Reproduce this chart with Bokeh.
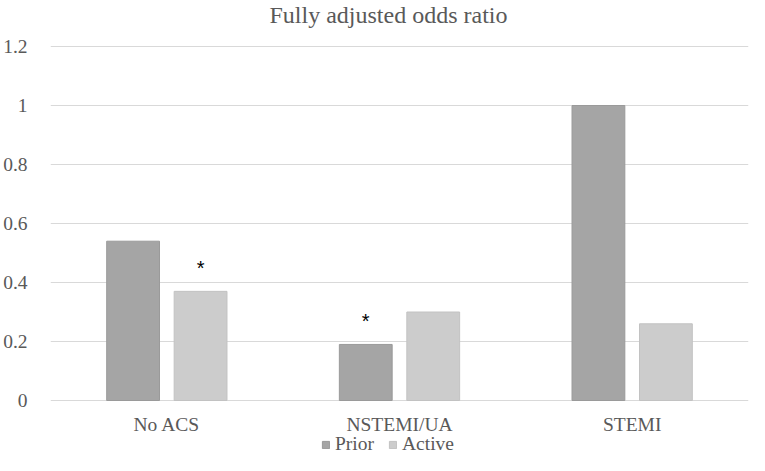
from bokeh.plotting import figure
from bokeh.models import ColumnDataSource, FactorRange, Legend, LegendItem, Range1d
from bokeh.transform import dodge
from bokeh.core.properties import value
from bokeh.embed import file_html
from bokeh.resources import INLINE

title_text = "Fully adjusted odds ratio"
categories = ["No ACS", "NSTEMI/UA", "STEMI"]
series_names = ["Prior", "Active"]
prior = [0.54, 0.19, 1.0]
active = [0.37, 0.30, 0.26]
prior_sig = [False, True, False]
active_sig = [True, False, False]
y_ticks = [0, 0.2, 0.4, 0.6, 0.8, 1.0, 1.2]
y_tick_labels = ["0", "0.2", "0.4", "0.6", "0.8", "1", "1.2"]

SERIF = "Liberation Serif"
TXT = "#595959"
LBL = "19.5px"
FILLS = ["#a5a5a5", "#cccccc"]
LINES = ["#9a9a9a", "#c2c2c2"]

# layout (pixels)
W, H = 749, 455
LEFT, RIGHT = 44, 1
TOP_GAP = 46                  # pixels above the 1.2 gridline
PX_PER_UNIT = 295.0           # vertical pixels per 1.0 of odds ratio
y_end = 1.2 + TOP_GAP / PX_PER_UNIT
y_start = y_end - H / PX_PER_UNIT

src = ColumnDataSource(dict(cat=categories, prior=prior, active=active))

p = figure(width=W, height=H, x_range=FactorRange(*categories, range_padding=0),
           y_range=Range1d(y_start, y_end), output_backend="svg", toolbar_location=None,
           min_border_left=LEFT, min_border_right=RIGHT, min_border_top=0, min_border_bottom=0)
p.outline_line_color = None

# chart title
p.text(x=[categories[1]], y=[y_end], text=[title_text], x_offset=-11, y_offset=14,
       text_font=value(SERIF), text_font_size="24px", text_color=TXT,
       text_align="center", text_baseline="middle")

off = 0.145
bw = 0.227
r1 = p.vbar(x=dodge("cat", -off, range=p.x_range), top="prior", width=bw, source=src,
            fill_color=FILLS[0], line_color=LINES[0], line_width=1)
r2 = p.vbar(x=dodge("cat", off, range=p.x_range), top="active", width=bw, source=src,
            fill_color=FILLS[1], line_color=LINES[1], line_width=1)

# significance stars
star_gap = 0.08
sx, sy, so = [], [], []
for c, v, s in zip(categories, prior, prior_sig):
    if s:
        sx.append(c); sy.append(v + star_gap); so.append(-off)
for c, v, s in zip(categories, active, active_sig):
    if s:
        sx.append(c); sy.append(v + star_gap); so.append(off)
for c, y, o in zip(sx, sy, so):
    p.text(x=dodge("x", o, range=p.x_range), y="y", text="t",
           source=ColumnDataSource(dict(x=[c], y=[y], t=["*"])),
           text_font=value("Liberation Sans"), text_font_size="20px", text_color="#000000",
           text_align="center", text_baseline="middle")

# category labels under the baseline
p.text(x="cat", y=0, text="cat", source=src, y_offset=24,
       text_font=value(SERIF), text_font_size=LBL, text_color=TXT,
       text_align="center", text_baseline="middle")

p.xaxis.visible = False

p.yaxis.ticker = y_ticks
p.yaxis.major_label_overrides = {t: l for t, l in zip(y_ticks, y_tick_labels)}
p.yaxis.axis_line_color = None
p.yaxis.major_tick_line_color = None
p.yaxis.minor_tick_line_color = None
p.yaxis.major_label_text_font = SERIF
p.yaxis.major_label_text_font_size = LBL
p.yaxis.major_label_text_color = TXT
p.yaxis.major_label_standoff = 17

p.xgrid.grid_line_color = None
p.ygrid.grid_line_color = "#d9d9d9"
p.ygrid.ticker = y_ticks

legend = Legend(items=[LegendItem(label=series_names[0], renderers=[r1]),
                       LegendItem(label=series_names[1], renderers=[r2])],
                orientation="horizontal", location=(271, 0),
                label_text_font=SERIF, label_text_font_size=LBL, label_text_color=TXT,
                glyph_width=9, glyph_height=9, spacing=14, label_standoff=5,
                label_height=20, border_line_color=None, background_fill_alpha=0,
                padding=0, margin=0)
p.add_layout(legend, "center")

open("out.html", "w").write(file_html(p, INLINE))
